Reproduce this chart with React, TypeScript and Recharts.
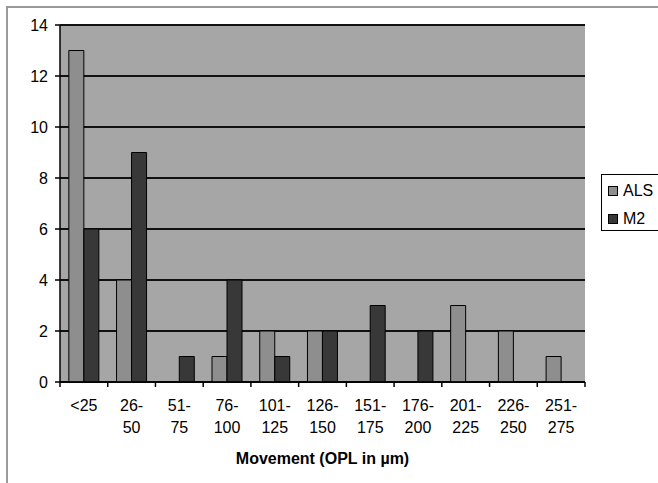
import React from "react";
import {
  BarChart, Bar, XAxis, YAxis, CartesianGrid, Legend,
} from "recharts";

const categories = ["<25", "26-50", "51-75", "76-100", "101-125", "126-150", "151-175", "176-200", "201-225", "226-250", "251-275"];
const alsValues = [13, 4, 0, 1, 2, 2, 0, 0, 3, 2, 1];
const m2Values = [6, 9, 1, 4, 1, 2, 3, 2, 0, 0, 0];
const yTicks = [0, 2, 4, 6, 8, 10, 12, 14];

const data = categories.map((c, i) => ({ name: c, ALS: alsValues[i], M2: m2Values[i] }));

const FONT = "'Liberation Sans', Arial, sans-serif";
const ALS_COLOR = "#8e8e8e";
const M2_COLOR = "#383838";

// category labels broken after the dash, plus tick marks on the band edges
function CategoryTick(props: any) {
  const { x, y, payload, index, visibleTicksCount } = props;
  const label: string = payload.value;
  const half = payload.offset ?? 0;
  const idx = label.indexOf("-");
  const lines = idx >= 0 ? [label.slice(0, idx + 1), label.slice(idx + 1)] : [label];
  const isLast = index === (visibleTicksCount ?? categories.length) - 1;
  return (
    <g>
      <line x1={x - half} x2={x - half} y1={y} y2={y + 5} stroke="#000" strokeWidth={1.5} />
      {isLast && <line x1={x + half} x2={x + half} y1={y} y2={y + 5} stroke="#000" strokeWidth={1.5} />}
      <text x={x} y={y} textAnchor="middle" fontFamily={FONT} fontSize={16} fill="#000">
        {lines.map((l, i) => (
          <tspan key={i} x={x} y={y + 29 + i * 22}>{l}</tspan>
        ))}
      </text>
    </g>
  );
}

function LegendBox() {
  const items = [
    { name: "ALS", color: ALS_COLOR },
    { name: "M2", color: M2_COLOR },
  ];
  return (
    <div style={{ width: 58, height: 57, border: "1px solid #000", background: "#fff", boxSizing: "border-box", paddingTop: 2 }}>
      {items.map((it) => (
        <div key={it.name} style={{ display: "flex", alignItems: "center", height: 28, fontFamily: FONT, fontSize: 16 }}>
          <span style={{ display: "inline-block", width: 8, height: 8, border: "1px solid #000", background: it.color, marginLeft: 6, marginRight: 5 }} />
          <span>{it.name}</span>
        </div>
      ))}
    </div>
  );
}

export default function App() {
  return (
    <div style={{ position: "absolute", left: 0, top: 0, width: 658, height: 483, overflow: "hidden", background: "#fff" }}>
      <div style={{ position: "absolute", left: 6, top: 6, width: 700, height: 600, border: "2px solid #9a9a9a" }} />
      <div style={{ position: "absolute", left: 0, top: 0 }}>
        <BarChart
          width={658}
          height={483}
          data={data}
          margin={{ top: 25, right: 73, bottom: 18, left: 10 }}
          barCategoryGap="18.5%"
          barGap={0}
        >
          <CartesianGrid xAxisId="cat" yAxisId="left" vertical={false} fill="#a6a6a6" stroke="#111" strokeWidth={2} />
          <XAxis
            xAxisId="cat"
            dataKey="name"
            height={83}
            tickSize={0}
            tickMargin={0}
            axisLine={{ stroke: "#000", strokeWidth: 1.5 }}
            tickLine={false}
            tick={<CategoryTick />}
            interval={0}
            label={{
              value: "Movement (OPL in µm)",
              position: "insideBottom",
              offset: 1,
              style: { fontFamily: FONT, fontSize: 16, fontWeight: "bold", fill: "#000" },
            }}
          />
          <YAxis
            yAxisId="left"
            domain={[0, 14]}
            ticks={yTicks}
            width={50}
            tickSize={5}
            tickMargin={7}
            axisLine={{ stroke: "#000", strokeWidth: 1.5 }}
            tickLine={{ stroke: "#000", strokeWidth: 1.5 }}
            tick={{ fontFamily: FONT, fontSize: 16, fill: "#000" }}
          />
          <YAxis
            yAxisId="right"
            orientation="right"
            domain={[0, 14]}
            width={0}
            tick={false}
            tickLine={false}
            axisLine={{ stroke: "#555", strokeWidth: 1.5 }}
          />
          <Legend
            layout="horizontal"
            verticalAlign="middle"
            align="center"
            content={() => <LegendBox />}
            wrapperStyle={{ position: "absolute", left: 601, top: 174, width: 58 }}
          />
          <Bar xAxisId="cat" yAxisId="left" dataKey="ALS" fill={ALS_COLOR} stroke="#000" strokeWidth={1} isAnimationActive={false} />
          <Bar xAxisId="cat" yAxisId="left" dataKey="M2" fill={M2_COLOR} stroke="#000" strokeWidth={1} isAnimationActive={false} />
        </BarChart>
      </div>
    </div>
  );
}
